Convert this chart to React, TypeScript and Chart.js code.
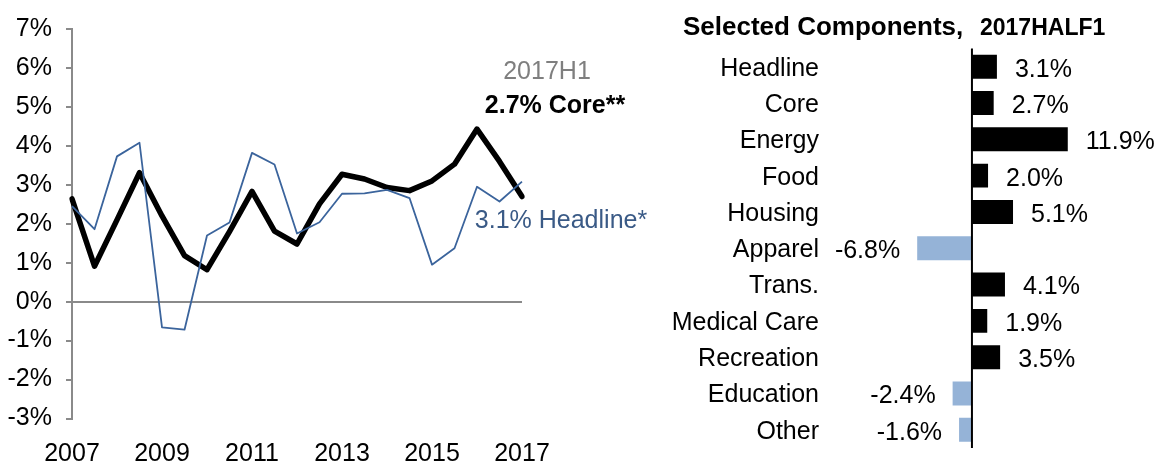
import React, { useEffect, useRef } from 'react';
import { Chart, registerables } from 'chart.js';

Chart.register(...registerables);

const FONT = '"Liberation Sans", Arial, Helvetica, sans-serif';

// Left chart: semiannual inflation (%)
const periods = [
  '2007H1', '2007H2', '2008H1', '2008H2', '2009H1', '2009H2', '2010H1', '2010H2',
  '2011H1', '2011H2', '2012H1', '2012H2', '2013H1', '2013H2', '2014H1', '2014H2',
  '2015H1', '2015H2', '2016H1', '2016H2', '2017H1',
];
const coreValues = [
  2.64, 0.91, 2.1, 3.31, 2.2, 1.18, 0.82, 1.8, 2.83, 1.81, 1.48,
  2.51, 3.27, 3.15, 2.93, 2.85, 3.1, 3.53, 4.43, 3.6, 2.7,
];
const headlineValues = [
  2.45, 1.86, 3.73, 4.08, -0.66, -0.72, 1.7, 2.03, 3.82, 3.52, 1.75,
  2.04, 2.77, 2.78, 2.87, 2.66, 0.95, 1.37, 2.95, 2.57, 3.08,
];
const yMin = -3;
const yMax = 7;

// Right chart: selected components
const titleMain = 'Selected Components,';
const titlePeriod = '2017HALF1';
const components = [
  'Headline', 'Core', 'Energy', 'Food', 'Housing', 'Apparel',
  'Trans.', 'Medical Care', 'Recreation', 'Education', 'Other',
];
const componentValues = [3.1, 2.7, 11.9, 2.0, 5.1, -6.8, 4.1, 1.9, 3.5, -2.4, -1.6];
const barMin = -18;
const barMax = 20;

const AXIS_GRAY = '#8a8a8a';
const HEADLINE_LINE = '#3b649c';
const HEADLINE_TEXT = '#3a5a86';
const NEG_BAR = '#95b3d7';

export default function App() {
  const leftRef = useRef<HTMLCanvasElement>(null);
  const rightRef = useRef<HTMLCanvasElement>(null);

  useEffect(() => {
    Chart.defaults.font.family = FONT;
    const last = periods.length - 1;

    const annotations = {
      id: 'lineAnnotations',
      afterDatasetsDraw(chart: any) {
        const ctx = chart.ctx;
        const xs = chart.scales.x;
        const x = xs.getPixelForValue(last);
        ctx.save();
        ctx.textAlign = 'center';
        ctx.textBaseline = 'middle';
        ctx.font = `25px ${FONT}`;
        ctx.fillStyle = '#7f7f7f';
        ctx.fillText(periods[last], x + 25, 72);
        ctx.font = `bold 25px ${FONT}`;
        ctx.fillStyle = '#000';
        ctx.fillText(`${coreValues[last].toFixed(1)}% Core**`, x + 33, 106);
        ctx.font = `25px ${FONT}`;
        ctx.fillStyle = HEADLINE_TEXT;
        ctx.fillText(`${headlineValues[last].toFixed(1)}% Headline*`, x + 39, 221);
        ctx.restore();
      },
    };

    const left = new Chart(leftRef.current!, {
      type: 'line',
      data: {
        labels: periods,
        datasets: [
          {
            label: 'Headline',
            data: headlineValues,
            borderColor: HEADLINE_LINE,
            borderWidth: 1.8,
            pointRadius: 0,
            tension: 0,
            borderJoinStyle: 'round',
          },
          {
            label: 'Core',
            data: coreValues,
            borderColor: '#000',
            borderWidth: 5.5,
            pointRadius: 0,
            tension: 0,
            borderJoinStyle: 'round',
            borderCapStyle: 'round',
          },
        ],
      },
      options: {
        animation: false,
        responsive: false,
        layout: { padding: { top: 24.5, right: 178, left: 0, bottom: 0 } },
        plugins: { legend: { display: false }, tooltip: { enabled: false } },
        scales: {
          x: {
            type: 'category',
            offset: false,
            grid: { display: false, drawTicks: false },
            border: { display: false },
            ticks: {
              autoSkip: false,
              maxRotation: 0,
              padding: 21,
              color: '#000',
              font: { size: 25, family: FONT },
              callback: (_v: any, i: number) => (i % 4 === 0 ? periods[i].slice(0, 4) : ''),
            },
            afterFit: (s: any) => {
              s.height = 43.5;
            },
          },
          y: {
            min: yMin,
            max: yMax,
            ticks: {
              stepSize: 1,
              padding: 14,
              color: '#000',
              font: { size: 25, family: FONT },
              callback: (v: any) => `${v}%`,
            },
            grid: {
              color: (c: any) => (c.tick && c.tick.value === 0 ? AXIS_GRAY : 'rgba(0,0,0,0)'),
              tickColor: AXIS_GRAY,
              tickLength: 6,
              lineWidth: 2,
            },
            border: { color: AXIS_GRAY, width: 2 },
            afterFit: (s: any) => {
              s.width = 72;
            },
          },
        },
      },
      plugins: [annotations],
    } as any);

    const barExtras = {
      id: 'barExtras',
      afterDatasetsDraw(chart: any) {
        const ctx = chart.ctx;
        const meta = chart.getDatasetMeta(0);
        const area = chart.chartArea;
        const zeroX = chart.scales.x.getPixelForValue(0);
        ctx.save();
        ctx.strokeStyle = '#000';
        ctx.lineWidth = 2;
        ctx.beginPath();
        ctx.moveTo(zeroX, area.top);
        ctx.lineTo(zeroX, area.bottom);
        ctx.stroke();
        ctx.fillStyle = '#000';
        ctx.textBaseline = 'middle';
        ctx.font = `25px ${FONT}`;
        meta.data.forEach((bar: any, i: number) => {
          const v = componentValues[i];
          const label = `${v.toFixed(1)}%`;
          if (v >= 0) {
            ctx.textAlign = 'left';
            ctx.fillText(label, bar.x + 18, bar.y + 3);
          } else {
            ctx.textAlign = 'right';
            ctx.fillText(label, bar.x - 17, bar.y + 3);
          }
        });
        ctx.textAlign = 'left';
        ctx.textBaseline = 'alphabetic';
        ctx.font = `bold 26px ${FONT}`;
        ctx.fillText(titleMain, 43, 35);
        ctx.font = `bold 23px ${FONT}`;
        ctx.fillText(titlePeriod, 340, 34.5);
        ctx.restore();
      },
    };

    const right = new Chart(rightRef.current!, {
      type: 'bar',
      data: {
        labels: components,
        datasets: [
          {
            data: componentValues,
            backgroundColor: componentValues.map((v) => (v >= 0 ? '#000' : NEG_BAR)),
            barPercentage: 0.66,
            categoryPercentage: 1,
          },
        ],
      },
      options: {
        indexAxis: 'y',
        animation: false,
        responsive: false,
        layout: { padding: { top: 48.5, bottom: 14, left: 0, right: 26 } },
        plugins: { legend: { display: false }, tooltip: { enabled: false } },
        scales: {
          x: {
            display: false,
            min: barMin,
            max: barMax,
          },
          y: {
            grid: { display: false, drawTicks: false },
            border: { display: false },
            ticks: {
              color: '#000',
              padding: 8,
              labelOffset: 2,
              font: { size: 25, family: FONT },
            },
            afterFit: (s: any) => {
              s.width = 187;
              s.paddingTop = 0;
              s.paddingBottom = 0;
            },
          },
        },
      },
      plugins: [barExtras],
    } as any);

    return () => {
      left.destroy();
      right.destroy();
    };
  }, []);

  return (
    <div
      style={{
        position: 'fixed',
        left: 0,
        top: 0,
        width: 1159,
        height: 462,
        overflow: 'hidden',
        background: '#fff',
      }}
    >
      <canvas
        ref={leftRef}
        width={700}
        height={462}
        style={{ position: 'absolute', left: 0, top: 0, width: 700, height: 462 }}
      />
      <canvas
        ref={rightRef}
        width={519}
        height={462}
        style={{ position: 'absolute', left: 640, top: 0, width: 519, height: 462 }}
      />
    </div>
  );
}
